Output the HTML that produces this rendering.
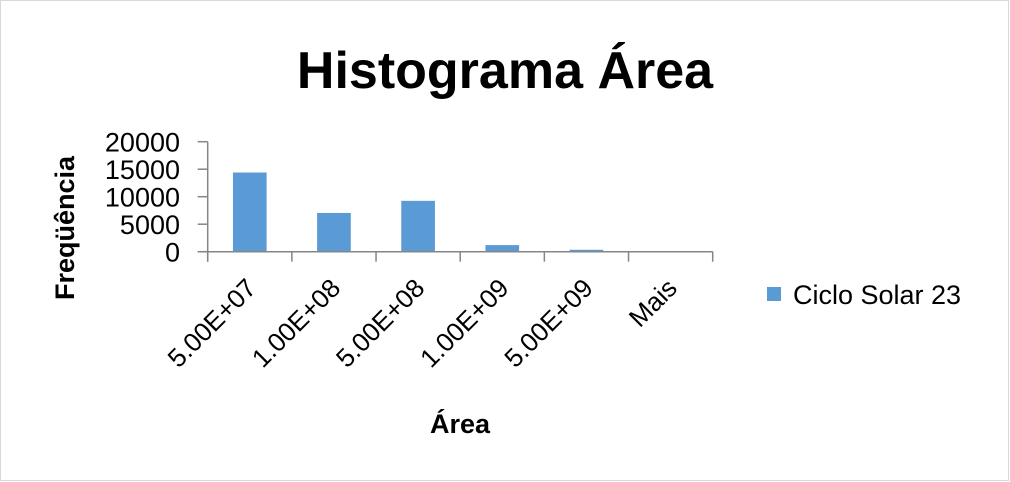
<!DOCTYPE html>
<html><head><meta charset="utf-8"><style>
body{margin:0;background:#fff;}
svg{display:block;font-family:"Liberation Sans",sans-serif;}
</style></head><body>
<svg width="1010" height="482">
<rect x="0.5" y="0.5" width="1008" height="480" fill="#fff" stroke="#d9d9d9"/>
<text x="505" y="88" text-anchor="middle" font-size="52" font-weight="bold">Histograma Área</text>
<text transform="translate(74,228) rotate(-90)" text-anchor="middle" font-size="27" font-weight="bold">Freqüência</text>
<text x="460" y="433" text-anchor="middle" font-size="27" font-weight="bold">Área</text>
<g id="plot"></g>
<rect x="767" y="287" width="14" height="14" fill="#5b9bd5"/>
<text x="793" y="304" font-size="27">Ciclo Solar 23</text>
</svg>
<script>
const categories=["5.00E+07","1.00E+08","5.00E+08","1.00E+09","5.00E+09","Mais"];
const values=[14400,7050,9250,1200,350,0];
const yTicks=[0,5000,10000,15000,20000];
const X0=207.7,X1=712.7,Y0=251.7,Y1=141.7,YMAX=20000;
const bw=(X1-X0)/categories.length;
const x=i=>X0+bw*i;
const y=v=>Y0-(v/YMAX)*(Y0-Y1);
const g=document.getElementById('plot');
const NS="http://www.w3.org/2000/svg";
function mk(t,a){const e=document.createElementNS(NS,t);for(const k in a)e.setAttribute(k,a[k]);g.appendChild(e);return e;}
values.forEach((v,i)=>{
 const r=mk('rect',{x:x(i)+bw*0.3,y:y(v),width:bw*0.4,height:Y0-y(v),fill:'#5b9bd5'});
 
 
});
const ya=mk('line',{x1:X0,y1:Y1,x2:X0,y2:Y0+10,stroke:'#868686','stroke-width':1.5});


const xa=mk('line',{x1:X0-10,y1:Y0,x2:X1,y2:Y0,stroke:'#868686','stroke-width':1.5});


yTicks.forEach(t=>{
 const l=mk('line',{x1:X0-10,y1:y(t),x2:X0,y2:y(t),stroke:'#868686','stroke-width':1.5});
 
 
 const tx=mk('text',{x:180,y:y(t)+10,'text-anchor':'end','font-size':'27'});
 tx.textContent=t;
 
 
});
for(let i=0;i<=categories.length;i++){
 const l=mk('line',{x1:x(i),y1:Y0,x2:x(i),y2:Y0+10,stroke:'#868686','stroke-width':1.5});
 
 
}
categories.forEach((c,i)=>{
 const cx=x(i)+bw/2+8, cy=Y0+38;
 const t=mk('text',{transform:`translate(${cx},${cy}) rotate(-45)`,'text-anchor':'end','font-size':'26'});
 t.textContent=c;
 
 
});
</script>
</body></html>
